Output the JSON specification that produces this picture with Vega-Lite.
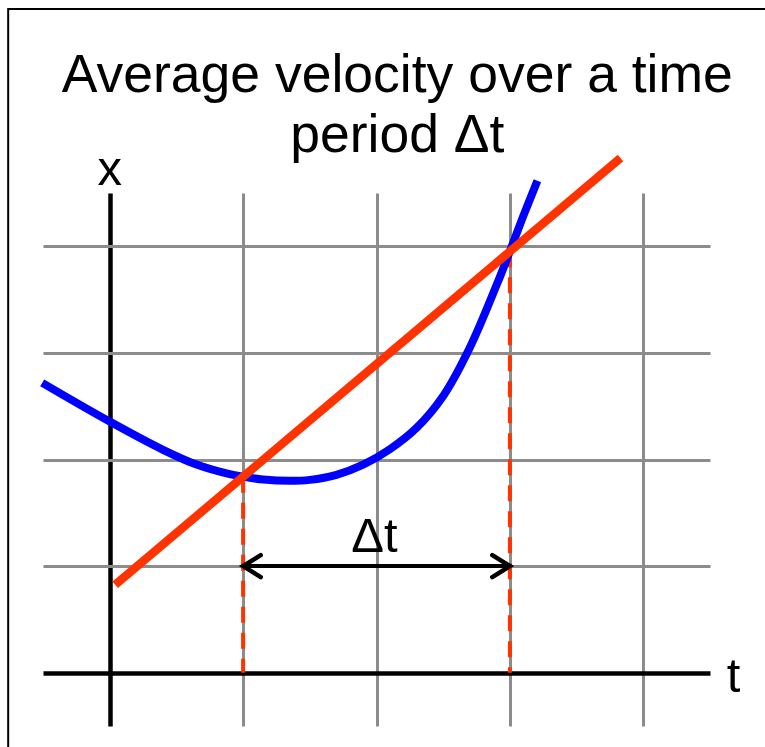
{
  "$schema": "https://vega.github.io/schema/vega-lite/v6.json",
  "width": 667,
  "height": 533,
  "autosize": {"type": "none"},
  "padding": {"left": 43, "top": 193, "right": 55, "bottom": 21},
  "background": "white",
  "config": {
    "view": {"stroke": null},
    "font": "Liberation Sans"
  },
  "datasets": {
    "frame": [{"t": -0.761, "t2": 5.6, "x": 6.225, "x2": -1.2}],
    "position": [
      {"t": -0.506, "x": 2.719},
      {"t": 0.0, "x": 2.356},
      {"t": 0.4, "x": 2.091},
      {"t": 0.656, "x": 1.95},
      {"t": 0.9, "x": 1.862},
      {"t": 1.0, "x": 1.839},
      {"t": 1.15, "x": 1.812},
      {"t": 1.35, "x": 1.8},
      {"t": 1.5, "x": 1.809},
      {"t": 1.7, "x": 1.856},
      {"t": 1.9, "x": 1.951},
      {"t": 2.1, "x": 2.096},
      {"t": 2.3, "x": 2.296},
      {"t": 2.5, "x": 2.596},
      {"t": 2.7, "x": 3.051},
      {"t": 2.9, "x": 3.636},
      {"t": 3.0, "x": 3.953},
      {"t": 3.1, "x": 4.283},
      {"t": 3.206, "x": 4.615}
    ],
    "secant": [
      {"t": 0.041, "x": 0.825},
      {"t": 3.829, "x": 4.828}
    ],
    "drops": [
      {"t": 1, "x": 1.839, "x2": 0},
      {"t": 3, "x": 3.953, "x2": 0}
    ],
    "interval": [{"t": 1, "t2": 3, "x": 1}],
    "ends": [
      {"t": 1, "x": 1, "end": "start"},
      {"t": 3, "x": 1, "end": "end"}
    ],
    "labels": [
      {"label": "x", "t": 0.0, "x": 4.575},
      {"label": "t", "t": 4.676, "x": -0.178},
      {"label": "Δt", "t": 1.984, "x": 1.134}
    ],
    "heading": [{"label": "Average velocity over a time\nperiod Δt", "t": 2.156, "x": 5.447}]
  },
  "encoding": {
    "x": {
      "field": "t",
      "type": "quantitative",
      "scale": {"domain": [-0.5, 4.5], "nice": false, "zero": false},
      "axis": {
        "grid": true,
        "domain": false,
        "ticks": false,
        "labels": false,
        "title": null,
        "values": [0, 1, 2, 3, 4],
        "gridColor": {"condition": {"test": "datum.value === 0", "value": "black"}, "value": "#8c8c8c"},
        "gridWidth": {"condition": {"test": "datum.value === 0", "value": 4.5}, "value": 3},
        "gridOpacity": 1
      }
    },
    "y": {
      "field": "x",
      "type": "quantitative",
      "scale": {"domain": [-0.5, 4.5], "nice": false, "zero": false},
      "axis": {
        "grid": true,
        "domain": false,
        "ticks": false,
        "labels": false,
        "title": null,
        "values": [0, 1, 2, 3, 4],
        "gridColor": {"condition": {"test": "datum.value === 0", "value": "black"}, "value": "#8c8c8c"},
        "gridWidth": {"condition": {"test": "datum.value === 0", "value": 4.5}, "value": 3},
        "gridOpacity": 1
      }
    }
  },
  "layer": [
    {
      "data": {"name": "frame"},
      "mark": {"type": "rect", "fill": null, "fillOpacity": 0, "stroke": "black", "strokeWidth": 2},
      "encoding": {
        "x2": {"field": "t2"},
        "y2": {"field": "x2"}
      }
    },
    {
      "data": {"name": "drops"},
      "mark": {"type": "rule", "color": "#ff3300", "strokeWidth": 4, "strokeDash": [16, 10]},
      "encoding": {"y2": {"field": "x2"}}
    },
    {
      "data": {"name": "interval"},
      "mark": {"type": "rule", "color": "black", "strokeWidth": 4},
      "encoding": {"x2": {"field": "t2"}}
    },
    {
      "data": {"name": "ends"},
      "mark": {"type": "point", "filled": false, "stroke": "black", "strokeWidth": 4.5, "opacity": 1, "size": 484, "strokeJoin": "miter", "strokeCap": "round"},
      "encoding": {
        "shape": {
          "field": "end",
          "type": "nominal",
          "scale": {"domain": ["start", "end"], "range": ["M1.6,-1L0,0L1.6,1", "M-1.6,-1L0,0L-1.6,1"]},
          "legend": null
        }
      }
    },
    {
      "data": {"name": "position"},
      "mark": {"type": "line", "color": "#0000ff", "strokeWidth": 8, "interpolate": "catmull-rom", "strokeCap": "butt"}
    },
    {
      "data": {"name": "secant"},
      "mark": {"type": "line", "color": "#ff3300", "strokeWidth": 8.5, "strokeCap": "butt"}
    },
    {
      "data": {"name": "labels"},
      "mark": {"type": "text", "fontSize": 49, "align": "center", "baseline": "alphabetic", "color": "black"},
      "encoding": {"text": {"field": "label"}}
    },
    {
      "data": {"name": "heading"},
      "mark": {"type": "text", "fontSize": 53.5, "align": "center", "baseline": "alphabetic", "color": "black", "lineBreak": "\n", "lineHeight": 60},
      "encoding": {"text": {"field": "label"}}
    }
  ]
}
